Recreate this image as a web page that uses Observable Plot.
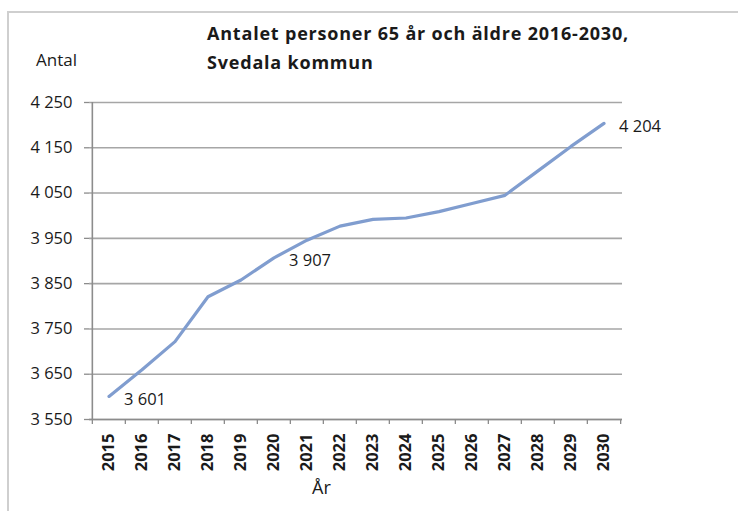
<!DOCTYPE html>
<html>
<head>
<meta charset="utf-8">
<script src="https://cdn.jsdelivr.net/npm/d3@7"></script>
<script src="https://cdn.jsdelivr.net/npm/@observablehq/plot@0.6"></script>
<style>
  body { margin: 0; background: #fff; }
  #wrap { position: relative; width: 738px; height: 511px; overflow: hidden; font-family: "Open Sans", sans-serif; color: #1a1a1a; }
  #border { position: absolute; left: 7px; top: 11px; width: 800px; height: 600px; border-left: 2px solid #cfcfcf; border-top: 2px solid #cfcfcf; }
  .t { position: absolute; white-space: nowrap; }
  #title { left: 207px; top: 19px; font-size: 18px; letter-spacing: 0.8px; font-weight: 700; line-height: 29px; }
  #ylab { left: 36px; top: 48px; font-size: 17px; }
  #xlab { left: 312px; top: 475px; font-size: 18px; }
  #chart { position: absolute; left: 0; top: 0; }
</style>
</head>
<body>
<div id="wrap">
  <div id="border"></div>
  <div id="chart"></div>
  <div class="t" id="title">Antalet personer 65 år och äldre 2016-2030,<br>Svedala kommun</div>
  <div class="t" id="ylab">Antal</div>
  <div class="t" id="xlab">År</div>
</div>
<script>
const years = ["2015","2016","2017","2018","2019","2020","2021","2022","2023","2024","2025","2026","2027","2028","2029","2030"];
const values = [3601, 3660, 3722, 3821, 3858, 3907, 3946, 3977, 3992, 3995, 4009, 4027, 4045, 4099, 4153, 4204];
const yTicks = [3550, 3650, 3750, 3850, 3950, 4050, 4150, 4250];
const labeledYears = ["2015", "2020", "2030"];

const data = years.map((year, i) => ({year, value: values[i]}));
const labeled = data.filter(d => labeledYears.includes(d.year));
const fmt = v => d3.format(",")(v).replace(/,/g, " ");

const W = 738, H = 511, ml = 89, mr = 116, mt = 102, mb = 92;
const bw = (W - ml - mr) / years.length;
const axisColor = "#8c8c8c";
const gridColor = "#a6a6a6";

const chart = Plot.plot({
  width: W, height: H,
  marginLeft: ml, marginRight: mr, marginTop: mt, marginBottom: mb,
  style: {fontFamily: "'Open Sans', sans-serif", color: "#1a1a1a", background: "transparent"},
  x: {type: "band", domain: years, padding: 0, axis: null},
  y: {domain: [yTicks[0], yTicks[yTicks.length - 1]], axis: null},
  marks: [
    Plot.gridY(yTicks, {stroke: gridColor, strokeOpacity: 1, strokeWidth: 1.6}),
    Plot.axisY(yTicks, {tickSize: 5, tickPadding: 12, tickFormat: fmt, fontSize: 16.5, stroke: axisColor, strokeWidth: 1.3, fill: "#1a1a1a", label: null}),
    Plot.ruleY([yTicks[0]], {stroke: axisColor, strokeWidth: 1.6}),
    Plot.ruleX([years[0]], {dx: -bw / 2, stroke: axisColor, strokeWidth: 1.6}),
    Plot.axisX(years, {tickSize: 5, dx: -bw / 2, text: null, stroke: axisColor, strokeWidth: 1.3, label: null}),
    Plot.axisX([years[years.length - 1]], {tickSize: 5, dx: bw / 2, text: null, stroke: axisColor, strokeWidth: 1.3, label: null}),
    Plot.axisX(years, {tickSize: 0, tickPadding: 14, tickRotate: -90, fontSize: 16.5, fontWeight: 700, fill: "#1a1a1a", label: null}),
    Plot.lineY(data, {x: "year", y: "value", stroke: "#809dcf", strokeWidth: 3.2}),
    Plot.text(labeled, {x: "year", y: "value", text: d => fmt(d.value), textAnchor: "start", dx: 15, dy: 3, fontSize: 16.5, fill: "#1a1a1a"})
  ]
});
document.getElementById("chart").appendChild(chart);
</script>
</body>
</html>
